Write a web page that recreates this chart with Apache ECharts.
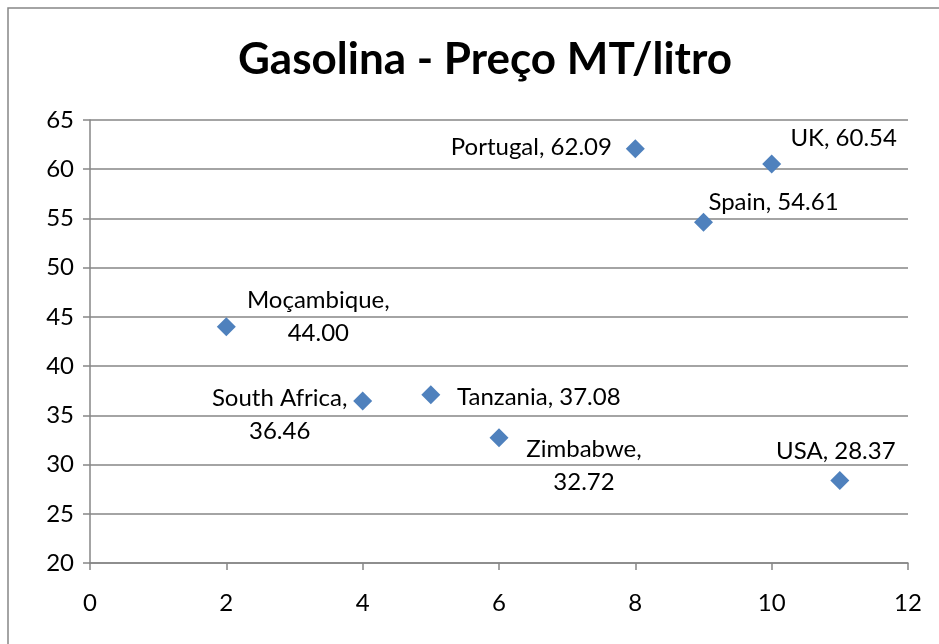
<!DOCTYPE html>
<html>
<head>
<meta charset="utf-8">
<script src="https://cdn.jsdelivr.net/npm/echarts@6/dist/echarts.min.js"></script>
<style>html,body{margin:0;padding:0;background:#fff}#c{width:939px;height:644px}</style>
</head>
<body>
<div id="c"></div>
<script>
var countries = ['Moçambique', 'South Africa', 'Tanzania', 'Zimbabwe', 'Portugal', 'Spain', 'UK', 'USA'];
var xValues = [2, 4, 5, 6, 8, 9, 10, 11];
var prices = [44.00, 36.46, 37.08, 32.72, 62.09, 54.61, 60.54, 28.37];
var labelBreak = [true, true, false, true, false, false, false, false];
var labelOffsets = [[92, -10], [-83, 14], [108, 2], [85, 28], [-104, -1], [70, -20], [72, -26], [-4, -29]];

var chart = echarts.init(document.getElementById('c'));
var font = 'Lato, "Open Sans", sans-serif';
var data = countries.map(function (n, i) {
  return {
    name: n,
    value: [xValues[i], prices[i]],
    label: {
      formatter: n + ',' + (labelBreak[i] ? '\n' : ' ') + prices[i].toFixed(2),
      offset: labelOffsets[i]
    }
  };
});
chart.setOption({
  animation: false,
  title: {
    text: 'Gasolina - Preço MT/litro',
    left: 480, top: 33, textAlign: 'center',
    textStyle: { fontFamily: font, fontWeight: 'bold', fontSize: 44, color: '#000' }
  },
  graphic: [{
    type: 'rect', shape: { x: 8, y: 8, width: 940, height: 650 },
    style: { fill: 'none', stroke: '#868686', lineWidth: 1.5 }, silent: true
  }],
  grid: { left: 90, right: 31, top: 120, bottom: 81 },
  xAxis: {
    type: 'value', min: 0, max: 12, interval: 2,
    axisLine: { show: true, lineStyle: { color: '#868686', width: 1.5 } },
    axisTick: { show: true, length: 7, lineStyle: { color: '#868686', width: 1.5 } },
    splitLine: { show: false },
    axisLabel: { margin: 28, fontFamily: font, fontSize: 24, color: '#000' }
  },
  yAxis: {
    type: 'value', min: 20, max: 65, interval: 5,
    axisLine: { show: true, lineStyle: { color: '#868686', width: 1.5 } },
    axisTick: { show: true, length: 7, lineStyle: { color: '#868686', width: 1.5 } },
    splitLine: { show: true, lineStyle: { color: '#868686', width: 1.5 } },
    axisLabel: { margin: 16, fontFamily: font, fontSize: 24, color: '#000' }
  },
  series: [{
    type: 'scatter',
    symbol: 'diamond',
    symbolSize: 19,
    itemStyle: { color: '#4F81BD', opacity: 1 },
    label: {
      show: true, position: 'inside', align: 'center', verticalAlign: 'middle',
      fontFamily: font, fontSize: 24, color: '#000', lineHeight: 33
    },
    data: data
  }]
});
</script>
</body>
</html>
